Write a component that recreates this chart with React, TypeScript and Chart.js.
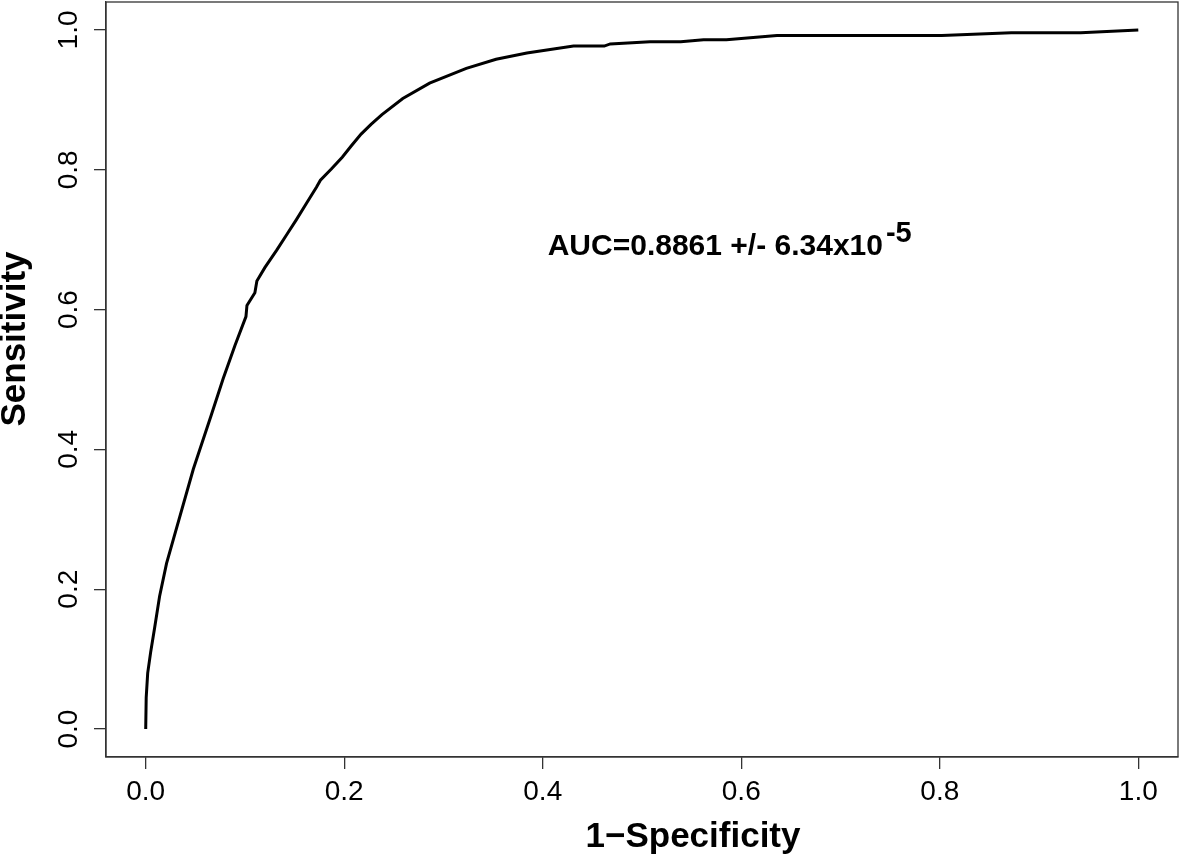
import { useEffect, useRef } from 'react';
import { Chart, registerables } from 'chart.js';

Chart.register(...registerables);

// ROC curve points (1 - specificity, sensitivity)
const fpr = [
  0, 0.0005, 0.002, 0.005, 0.009, 0.014, 0.021, 0.028, 0.048, 0.066,
  0.078, 0.09, 0.101, 0.102, 0.11, 0.112, 0.12, 0.132, 0.142, 0.152,
  0.162, 0.172, 0.176, 0.187, 0.198, 0.207, 0.217, 0.227, 0.238, 0.259,
  0.286, 0.323, 0.353, 0.384, 0.431, 0.462, 0.468, 0.508, 0.539, 0.562,
  0.585, 0.636, 0.802, 0.872, 0.942, 1.0,
];
const tpr = [
  0, 0.045, 0.08, 0.11, 0.145, 0.19, 0.237, 0.272, 0.372, 0.449,
  0.501, 0.549, 0.59, 0.606, 0.624, 0.641, 0.66, 0.685, 0.707, 0.729,
  0.752, 0.775, 0.785, 0.801, 0.818, 0.834, 0.851, 0.865, 0.879, 0.902,
  0.924, 0.945, 0.958, 0.967, 0.977, 0.977, 0.98, 0.983, 0.983, 0.986,
  0.986, 0.992, 0.992, 0.996, 0.996, 1.0,
];

const tickValues = [0, 0.2, 0.4, 0.6, 0.8, 1.0];
const tickLabels = ['0.0', '0.2', '0.4', '0.6', '0.8', '1.0'];
const xTitle = '1\u2212Specificity';
const yTitle = 'Sensitivity';
const aucMain = 'AUC=0.8861 +/- 6.34x10';
const aucSup = '-5';
const aucAt = { x: 0.405, y: 0.678 };

const FONT = '"Liberation Sans", Arial, Helvetica, sans-serif';
const AXIS_COLOR = '#333';

const rPlotPlugin = {
  id: 'rPlot',
  afterDraw(chart: any) {
    const { ctx, chartArea } = chart;
    const xs = chart.scales.x;
    const ys = chart.scales.y;
    ctx.save();
    // box around plot region
    ctx.strokeStyle = AXIS_COLOR;
    ctx.lineWidth = 1.3;
    ctx.strokeRect(chartArea.left, chartArea.top, chartArea.right - chartArea.left, chartArea.bottom - chartArea.top);

    // y tick labels (rotated, R style)
    ctx.fillStyle = '#000';
    ctx.font = `28px ${FONT}`;
    ctx.textAlign = 'center';
    ctx.textBaseline = 'alphabetic';
    tickValues.forEach((v, i) => {
      const py = ys.getPixelForValue(v);
      ctx.save();
      ctx.translate(77, py);
      ctx.rotate(-Math.PI / 2);
      ctx.fillText(tickLabels[i], 0, 0);
      ctx.restore();
    });

    // axis titles
    ctx.font = `bold 35px ${FONT}`;
    ctx.textAlign = 'center';
    ctx.fillText(xTitle, 693, 847);
    ctx.save();
    ctx.translate(25, 339);
    ctx.rotate(-Math.PI / 2);
    ctx.fillText(yTitle, 0, 0);
    ctx.restore();

    // AUC annotation
    const ax = xs.getPixelForValue(aucAt.x);
    const ay = ys.getPixelForValue(aucAt.y);
    ctx.font = `bold 30px ${FONT}`;
    ctx.textAlign = 'left';
    ctx.fillText(aucMain, ax, ay);
    const w = ctx.measureText(aucMain).width;
    ctx.font = `bold 29px ${FONT}`;
    ctx.fillText(aucSup, ax + w + 3, ay - 13);
    ctx.restore();
  },
};

export default function App() {
  const canvasRef = useRef<HTMLCanvasElement | null>(null);

  useEffect(() => {
    document.body.style.margin = '0';
    document.body.style.overflow = 'hidden';
    const canvas = canvasRef.current;
    if (!canvas) return;
    const data = fpr.map((x, i) => ({ x, y: tpr[i] }));
    const chart = new Chart(canvas, {
      type: 'line',
      data: {
        datasets: [
          {
            data,
            borderColor: '#000',
            borderWidth: 3,
            pointRadius: 0,
            tension: 0,
            fill: false,
          },
        ],
      },
      options: {
        animation: false,
        responsive: true,
        maintainAspectRatio: false,
        layout: { padding: { top: 2, right: 3, left: 0, bottom: 0 } },
        plugins: { legend: { display: false }, tooltip: { enabled: false } },
        scales: {
          x: {
            type: 'linear',
            min: -0.04,
            max: 1.04,
            afterBuildTicks: (s: any) => {
              s.ticks = tickValues.map((v) => ({ value: v }));
            },
            afterFit: (s: any) => {
              s.height = 103;
            },
            grid: { drawOnChartArea: false, drawTicks: true, tickLength: 12, color: AXIS_COLOR, lineWidth: 1.3 },
            border: { display: true, color: AXIS_COLOR, width: 1.3 },
            ticks: {
              color: '#000',
              font: { family: FONT, size: 28 },
              padding: 6,
              maxRotation: 0,
              minRotation: 0,
              callback: (_v: any, i: number) => tickLabels[i],
            },
          },
          y: {
            type: 'linear',
            min: -0.04,
            max: 1.04,
            afterBuildTicks: (s: any) => {
              s.ticks = tickValues.map((v) => ({ value: v }));
            },
            afterFit: (s: any) => {
              s.width = 106;
            },
            grid: { drawOnChartArea: false, drawTicks: true, tickLength: 12, color: AXIS_COLOR, lineWidth: 1.3 },
            border: { display: true, color: AXIS_COLOR, width: 1.3 },
            ticks: { display: false },
          },
        },
      },
      plugins: [rPlotPlugin],
    });
    return () => chart.destroy();
  }, []);

  return (
    <div style={{ position: 'relative', width: '1181px', height: '860px', background: '#fff' }}>
      <canvas ref={canvasRef} />
    </div>
  );
}
